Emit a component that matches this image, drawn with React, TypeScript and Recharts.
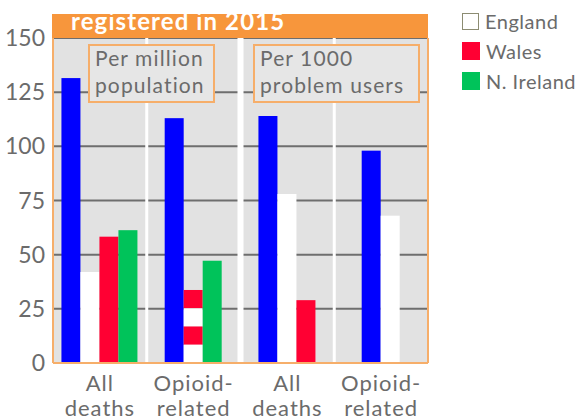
import React from "react";
import { BarChart, Bar, XAxis, YAxis, CartesianGrid, Legend } from "recharts";

// values; per-1000 groups are on the right axis (0-15)
const categories = ["All deaths", "Opioid-related", "All deaths", "Opioid-related"];
const categoryLines = [
  ["All", "deaths"],
  ["Opioid-", "related"],
  ["All", "deaths"],
  ["Opioid-", "related"],
];
const rateBasis = ["million", "million", "1000", "1000"];
const scotland = [131.5, 113, 11.4, 9.8];
const england = [42, 33.7, 7.8, 6.8];
const wales = [58.3, 33.7, 2.9, null];
const nIreland = [61.3, 47.2, null, null];
const leftTicks = [0, 25, 50, 75, 100, 125, 150];
const rightTicks = [0, 5, 10, 15];
const title = "registered in 2015";
const boxLabels = [
  ["Per million", "population"],
  ["Per 1000", "problem users"],
];

const FONT = "Lato, 'Open Sans', sans-serif";
const GREY_TEXT = "#6b6b6b";
const ORANGE = "#f7963c";
const BORDER = "#f6ae6a";
const PANEL = "#e2e2e2";
const RIGHT_TO_LEFT = leftTicks[leftTicks.length - 1] / rightTicks[rightTicks.length - 1];

const SERIES = [
  { key: "scotland", name: "Scotland", values: scotland, color: "#0000ff" },
  { key: "england", name: "England", values: england, color: "#ffffff" },
  { key: "wales", name: "Wales", values: wales, color: "#ff0033" },
  { key: "nIreland", name: "N. Ireland", values: nIreland, color: "#00c35a" },
];

const data = categories.map((name, i) => {
  const row: any = { idx: i, name };
  const factor = rateBasis[i] === "1000" ? RIGHT_TO_LEFT : 1;
  SERIES.forEach((s) => {
    const v = s.values[i];
    row[s.key] = v == null ? null : v * factor;
  });
  return row;
});

// England and Wales with the same value share one striped bar
const isMerged = (i: number) => england[i] != null && england[i] === wales[i];

// bars of a group are centred on the category, only present series take a slot
const makeShape = (slot: number) => (props: any) => {
  const { x, y, width, height, payload, fill } = props;
  const i = payload.idx;
  if (SERIES[slot].values[i] == null) return null;
  const merged = isMerged(i);
  if (merged && slot === 1) return null;
  const groups: number[] = [];
  SERIES.forEach((s, k) => {
    if (s.values[i] == null) return;
    if (merged && k === 2) return;
    groups.push(k);
  });
  const rank = groups.indexOf(merged && slot === 2 ? 1 : slot);
  const start = x - slot * width;
  const left = start + ((SERIES.length - groups.length) * width) / 2 + rank * width;
  if (merged && slot === 2) {
    const band = height / 4;
    return (
      <g>
        {[0, 1, 2, 3].map((b) => (
          <rect key={b} x={left} y={y + b * band} width={width} height={band} fill={b % 2 === 0 ? fill : "#ffffff"} />
        ))}
      </g>
    );
  }
  return <rect x={left} y={y} width={width} height={height} fill={fill} />;
};

// white separators between the category bands
const bandEdges = (which: number[]) => ({ offset }: any) =>
  which.map((k) => offset.left + (offset.width * k) / categories.length);

const CategoryTick = ({ x, y, payload }: any) => {
  const lines = categoryLines[payload.value];
  return (
    <text x={x} y={y} textAnchor="middle" fill={GREY_TEXT} fontSize={22} fontFamily={FONT} letterSpacing={1}>
      <tspan x={x} dy={20}>{lines[0]}</tspan>
      <tspan x={x} dy={25}>{lines[1]}</tspan>
    </text>
  );
};

const renderLegend = (props: any) => {
  const items = (props.payload || [])
    .filter((p: any) => p.type !== "none" && p.value !== "Scotland")
    .sort(
      (a: any, b: any) =>
        SERIES.findIndex((s) => s.name === a.value) - SERIES.findIndex((s) => s.name === b.value)
    );
  return (
    <div style={{ fontFamily: FONT, fontSize: 20, color: GREY_TEXT, letterSpacing: 0.5 }}>
      {items.map((p: any) => {
        const white = p.color === "#ffffff";
        return (
          <div key={p.value} style={{ display: "flex", alignItems: "center", height: 30 }}>
            <span
              style={{
                display: "inline-block",
                width: white ? 15 : 18,
                height: white ? 15 : 18,
                background: p.color,
                border: white ? "1.5px solid #8c8c72" : "none",
                marginRight: 6,
              }}
            />
            <span>{p.value}</span>
          </div>
        );
      })}
    </div>
  );
};

const tickStyle = { fill: GREY_TEXT, fontSize: 23, fontFamily: FONT };

export default function App() {
  return (
    <div style={{ position: "absolute", left: 0, top: 0, width: 586, height: 419, background: "#fff" }}>
      <BarChart
        width={586}
        height={419}
        data={data}
        margin={{ top: 38, right: 0, bottom: 0, left: 0 }}
        barCategoryGap="9%"
        barGap={0}
      >
        <CartesianGrid vertical={false} stroke="#6e6e6e" strokeWidth={2} fill={PANEL} fillOpacity={1} />
        <CartesianGrid horizontal={false} stroke="#ffffff" strokeWidth={3} verticalCoordinatesGenerator={bandEdges([1, 3])} />
        <CartesianGrid horizontal={false} stroke="#ffffff" strokeWidth={6} verticalCoordinatesGenerator={bandEdges([2])} />
        <XAxis
          dataKey="idx"
          height={56}
          tickLine={false}
          axisLine={{ stroke: BORDER, strokeWidth: 2 }}
          tick={<CategoryTick />}
          interval={0}
        />
        <YAxis
          width={53}
          domain={[0, 150]}
          ticks={leftTicks}
          tickLine={false}
          axisLine={{ stroke: BORDER, strokeWidth: 2 }}
          tick={tickStyle}
        />
        <YAxis
          yAxisId="right"
          orientation="right"
          width={158}
          domain={[0, 15]}
          ticks={rightTicks}
          tickLine={false}
          tickSize={3}
          axisLine={{ stroke: BORDER, strokeWidth: 2 }}
          tick={tickStyle}
        />
        {SERIES.map((s, k) => (
          <Bar
            key={s.key}
            dataKey={s.key}
            name={s.name}
            fill={s.color}
            legendType={k === 0 ? "none" : "square"}
            shape={makeShape(k)}
            isAnimationActive={false}
          />
        ))}
        <Legend
          layout="vertical"
          align="center"
          verticalAlign="middle"
          content={renderLegend}
          wrapperStyle={{ position: "absolute", left: 462, top: 6, width: 124 }}
        />
      </BarChart>
      <svg width={586} height={419} style={{ position: "absolute", left: 0, top: 0, pointerEvents: "none" }}>
        <defs>
          <clipPath id="hdr">
            <rect x={52} y={14} width={376} height={24} />
          </clipPath>
        </defs>
        <rect x={52} y={14} width={376} height={24} fill={ORANGE} />
        <text x={71} y={30} fill="#ffffff" fontSize={24} fontWeight="bold" fontFamily={FONT} letterSpacing={1.1} clipPath="url(#hdr)">
          {title}
        </text>
        {[{ x: 89, w: 125 }, { x: 254, w: 165 }].map((b, k) => (
          <g key={k}>
            <rect x={b.x} y={45} width={b.w} height={57} fill="#e6e6e6" stroke={BORDER} strokeWidth={2} />
            <text fill={GREY_TEXT} fontSize={21} fontFamily={FONT} letterSpacing={1.1}>
              <tspan x={b.x + 6} y={66}>{boxLabels[k][0]}</tspan>
              <tspan x={b.x + 6} y={93}>{boxLabels[k][1]}</tspan>
            </text>
          </g>
        ))}
      </svg>
    </div>
  );
}
